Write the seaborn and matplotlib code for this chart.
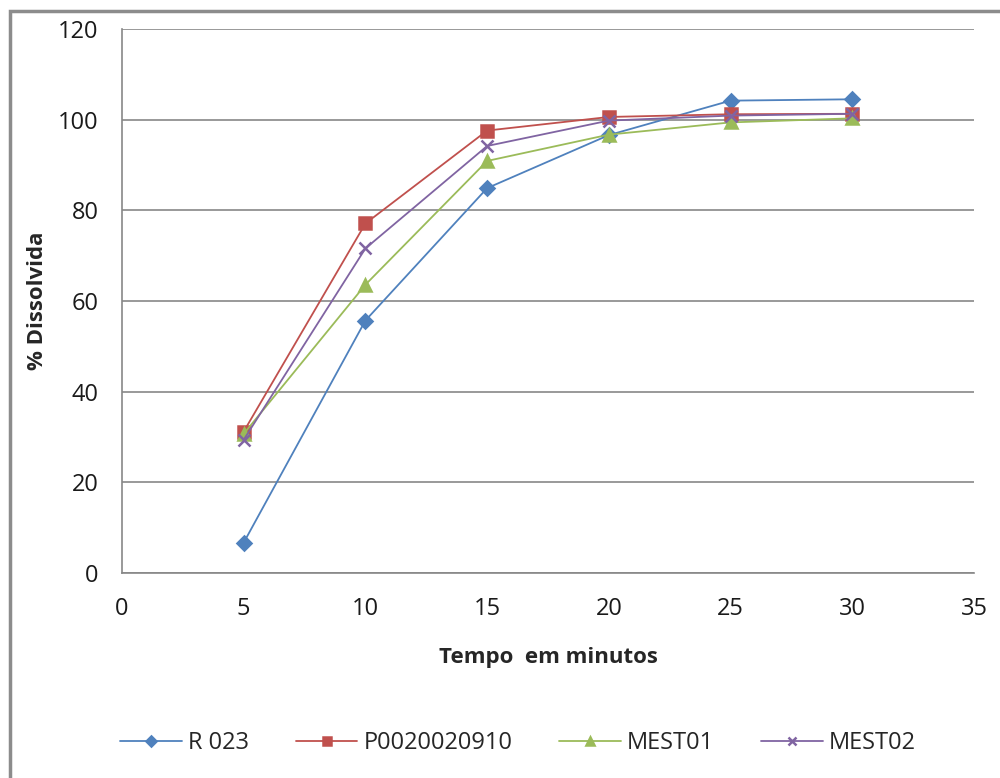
import pandas as pd
import numpy as np
import matplotlib
matplotlib.use("Agg")
import matplotlib.pyplot as plt
import seaborn as sns
from matplotlib.patches import Rectangle

# Data
tempo = [5, 10, 15, 20, 25, 30]
series_names = ["R 023", "P0020020910", "MEST01", "MEST02"]
r023 = [6.7, 55.7, 84.9, 96.6, 104.2, 104.5]
p0020020910 = [31.2, 77.1, 97.6, 100.6, 101.2, 101.3]
mest01 = [30.7, 63.6, 90.9, 96.7, 99.4, 100.3]
mest02 = [29.4, 71.6, 94.2, 99.8, 100.9, 101.3]

colors = ["#4F81BD", "#C0504D", "#9BBB59", "#8064A2"]
markers = ["D", "s", "^", "x"]
msizes = [7, 8, 8, 8]

def main():
    sns.set_style("white")
    plt.rcParams['font.family'] = ['Open Sans', 'DejaVu Sans']

    df = pd.DataFrame({
        "Tempo": tempo * 4,
        "Dissolvida": r023 + p0020020910 + mest01 + mest02,
        "Serie": np.repeat(series_names, len(tempo)),
    })

    fig = plt.figure(figsize=(10, 7.78), dpi=100)
    ax = fig.add_axes([0.122, 0.2635, 0.852, 0.6992])

    # one call per series (filled and line-art markers can't be mixed in one call)
    for name, c, m, ms in zip(series_names, colors, markers, msizes):
        sub = df[df["Serie"] == name]
        sns.lineplot(data=sub, x="Tempo", y="Dissolvida", color=c, marker=m,
                     markersize=ms, markeredgecolor=c, markeredgewidth=1.8,
                     linewidth=1.3, label=name, ax=ax)

    ax.set_xlim(0, 35)
    ax.set_ylim(0, 120)
    ax.set_xticks(range(0, 36, 5))
    ax.set_yticks(range(0, 121, 20))
    ax.yaxis.grid(True, color="#878787", linewidth=1.2)
    ax.xaxis.grid(False)
    ax.set_axisbelow(True)

    for side in ["top", "right"]:
        ax.spines[side].set_visible(False)
    for side in ["left", "bottom"]:
        ax.spines[side].set_color("#878787")
        ax.spines[side].set_linewidth(1.2)

    ax.tick_params(axis="both", direction="out", length=7, width=1.2,
                   color="#878787", labelsize=17, labelcolor="#1a1a1a")
    ax.tick_params(axis="y", pad=10)
    ax.tick_params(axis="x", pad=10)

    ax.set_xlabel("Tempo  em minutos", fontsize=16, fontweight="bold", labelpad=19)
    ax.set_ylabel("% Dissolvida", fontsize=16, fontweight="bold", labelpad=7)

    handles, labels = ax.get_legend_handles_labels()
    ax.legend(handles, labels, loc="center", bbox_to_anchor=(0.518, 0.045),
              bbox_transform=fig.transFigure, ncol=4, frameon=False,
              fontsize=17, handlelength=2.6, handletextpad=0.25,
              columnspacing=2.0, markerscale=0.7)

    # outer chart frame (cut off at right and bottom like the reference)
    fig.patches.append(Rectangle((0.010, -0.05), 1.1, 1.036,
                                 transform=fig.transFigure, fill=False,
                                 edgecolor="#8c8c8c", linewidth=2.5))

    fig.savefig("out.png", dpi=100)

if __name__ == "__main__":
    main()
